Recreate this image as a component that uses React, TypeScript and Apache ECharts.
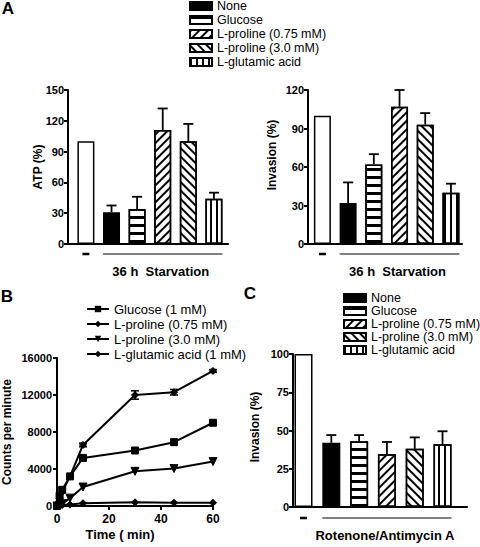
import React, { useEffect, useRef } from 'react';
import * as echarts from 'echarts';

// ---------- data ----------
const barNames = ['Control', 'None', 'Glucose', 'L-proline (0.75 mM)', 'L-proline (3.0 mM)', 'L-glutamic acid'];
const legendNames = barNames.slice(1);

const atpMean = [100, 31, 34, 111, 100, 44];
const atpErr = [0, 6.5, 12, 21, 17, 6];
const atpTicks = [0, 30, 60, 90, 120, 150];

const invAMean = [100, 32, 62, 107, 93, 40];
const invAErr = [0, 16, 8, 13, 9, 7];
const invATicks = [0, 30, 60, 90, 120];

const invCMean = [100, 42, 43, 34.5, 38, 41];
const invCErr = [0, 5, 4, 8, 7.5, 8.5];
const invCTicks = [0, 25, 50, 75, 100];

const timeMin = [0, 1, 2, 5, 10, 30, 45, 60];
const lineNames = ['Glucose (1 mM)', 'L-proline (0.75 mM)', 'L-proline (3.0 mM)', 'L-glutamic acid (1 mM)'];
const glucoseCpm = [0, 1100, 1750, 3200, 5200, 6000, 6900, 9000];
const proline075Cpm = [0, 800, 1500, 3200, 6600, 12000, 12300, 14600];
const proline075Err = [0, 0, 0, 150, 200, 450, 300, 150];
const proline30Cpm = [0, 100, 250, 850, 2050, 3750, 4050, 4800];
const glutamicCpm = [0, 50, 100, 150, 300, 400, 350, 350];
const timeTicks = [0, 20, 40, 60];
const cpmTicks = [0, 4000, 8000, 12000, 16000];

const FONT = '"Liberation Sans", Arial, Helvetica, sans-serif';
const B_PREFIX = 'B: ';

function decalFor(i: number): any {
  const base = { symbol: 'rect', symbolSize: 1, symbolKeepAspect: false, color: '#000' };
  if (i === 2) return { ...base, dashArrayX: [1, 0], dashArrayY: [3, 5], rotation: 0 };
  if (i === 3) return { ...base, dashArrayX: [1, 0], dashArrayY: [1.5, 3.5], rotation: -Math.PI / 4 };
  if (i === 4) return { ...base, dashArrayX: [1, 0], dashArrayY: [1.5, 3.2], rotation: Math.PI / 4 };
  if (i === 5) return { ...base, dashArrayX: [2, 3.5], dashArrayY: [1, 0], rotation: 0 };
  return undefined;
}

function barSeries(gridIdx: number, means: number[], errs: number[], barWidth: number) {
  const out: any[] = [];
  barNames.forEach((name, i) => {
    const decal = decalFor(i);
    out.push({
      type: 'bar',
      name,
      xAxisIndex: gridIdx,
      yAxisIndex: gridIdx,
      barWidth,
      barGap: '-100%',
      data: [[i, means[i]]],
      itemStyle: {
        color: i === 1 ? '#000' : '#fff',
        borderColor: '#000',
        borderWidth: 1.5,
        ...(decal ? { decal } : {}),
      },
      emphasis: { disabled: true },
      z: 2,
    });
  });
  const errData = means.map((m, i) => [i, m, errs[i]]).filter((d) => d[2] > 0);
  out.push({
    type: 'custom',
    name: 'err' + gridIdx,
    xAxisIndex: gridIdx,
    yAxisIndex: gridIdx,
    encode: { x: 0, y: 1 },
    data: errData,
    z: 5,
    renderItem: (params: any, api: any) => {
      const x = api.value(0), v = api.value(1), e = api.value(2);
      const p0 = api.coord([x, v]);
      const p1 = api.coord([x, v + e]);
      return {
        type: 'group',
        children: [
          { type: 'line', shape: { x1: p0[0], y1: p0[1], x2: p1[0], y2: p1[1] }, style: { stroke: '#000', lineWidth: 1.8 } },
          { type: 'line', shape: { x1: p1[0] - 5, y1: p1[1], x2: p1[0] + 5, y2: p1[1] }, style: { stroke: '#000', lineWidth: 1.8 } },
        ],
      };
    },
  });
  return out;
}

function yAxisFor(gridIdx: number, ticks: number[], margin = 5) {
  return {
    type: 'value',
    gridIndex: gridIdx,
    min: ticks[0],
    max: ticks[ticks.length - 1],
    interval: ticks[1] - ticks[0],
    axisLine: { show: true, onZero: false, lineStyle: { color: '#000', width: 2 } },
    axisTick: { show: true, length: 4, lineStyle: { color: '#000', width: 2 } },
    axisLabel: {
      show: true, color: '#000', fontWeight: 'bold', fontSize: 11, fontFamily: FONT, margin,
      formatter: (v: number) => String(v),
    },
    splitLine: { show: false },
  };
}

function barXAxis(gridIdx: number, min: number, max: number) {
  return {
    type: 'value',
    gridIndex: gridIdx,
    min,
    max,
    axisLine: { show: true, onZero: false, lineStyle: { color: '#000', width: 2 } },
    axisTick: { show: false },
    axisLabel: { show: false },
    splitLine: { show: false },
  };
}

function barLegend(left: number, top: number, lineHeight: number) {
  return {
    orient: 'vertical',
    left,
    top,
    padding: 0,
    itemGap: 0,
    itemWidth: 22,
    itemHeight: 8,
    icon: 'rect',
    selectedMode: false,
    data: legendNames,
    textStyle: { color: '#000', fontSize: 12.5, fontFamily: FONT, lineHeight },
  };
}

const lineSymbols = ['rect', 'diamond', 'triangle', 'diamond'];
const lineSizes = [7, 7, 8, 7];
const lineRot = [0, 0, 180, 0];
const lineData = [glucoseCpm, proline075Cpm, proline30Cpm, glutamicCpm];

export default function App() {
  const ref = useRef<HTMLDivElement>(null);
  useEffect(() => {
    if (!ref.current) return;
    const chart = echarts.init(ref.current, null, { renderer: 'svg' });
    const lineSeries = lineNames.map((n, k) => ({
      type: 'line',
      name: B_PREFIX + n,
      xAxisIndex: 2,
      yAxisIndex: 2,
      data: timeMin.map((t, i) => [t, lineData[k][i]]),
      symbol: lineSymbols[k],
      symbolSize: lineSizes[k],
      symbolRotate: lineRot[k],
      showSymbol: true,
      lineStyle: { color: '#000', width: 2 },
      itemStyle: { color: '#000', borderColor: '#000' },
      emphasis: { disabled: true },
      z: 3,
    }));
    const option: any = {
      animation: false,
      textStyle: { fontFamily: FONT },
      grid: [
        { left: 68, top: 90, width: 160, height: 154, outerBoundsMode: 'none' },
        { left: 308, top: 90, width: 154, height: 154, outerBoundsMode: 'none' },
        { left: 57, top: 358, width: 156, height: 148, outerBoundsMode: 'none' },
        { left: 293, top: 354, width: 174, height: 153, outerBoundsMode: 'none' },
      ],
      xAxis: [
        barXAxis(0, -0.7, 5.55),
        barXAxis(1, -0.56, 5.43),
        {
          type: 'value',
          gridIndex: 2,
          min: timeTicks[0],
          max: timeTicks[timeTicks.length - 1],
          interval: timeTicks[1] - timeTicks[0],
          axisLine: { show: true, onZero: false, lineStyle: { color: '#000', width: 2 } },
          axisTick: { show: true, length: 4, lineStyle: { color: '#000', width: 2 } },
          axisLabel: { show: true, color: '#000', fontWeight: 'bold', fontSize: 12, fontFamily: FONT, margin: 7 },
          splitLine: { show: false },
        },
        barXAxis(3, -0.378, 5.88),
      ],
      yAxis: [
        yAxisFor(0, atpTicks, 4),
        yAxisFor(1, invATicks, 4),
        yAxisFor(2, cpmTicks, 5),
        yAxisFor(3, invCTicks, 4),
      ],
      legend: [
        barLegend(189, -1, 14),
        barLegend(343, 291.5, 11.3),
        {
          orient: 'vertical',
          left: 86,
          top: 301.5,
          padding: 0,
          itemGap: 0,
          itemWidth: 22,
          itemHeight: 8,
          selectedMode: false,
          data: lineNames.map((n) => B_PREFIX + n),
          formatter: (name: string) => name.replace(B_PREFIX, ''),
          textStyle: { color: '#000', fontSize: 13, fontFamily: FONT, lineHeight: 15 },
        },
      ],
      series: [
        ...barSeries(0, atpMean, atpErr, 17),
        ...barSeries(1, invAMean, invAErr, 17),
        ...barSeries(3, invCMean, invCErr, 18),
        ...lineSeries,
        {
          type: 'custom',
          name: 'errB',
          xAxisIndex: 2,
          yAxisIndex: 2,
          encode: { x: 0, y: 1 },
          data: timeMin.map((t, i) => [t, proline075Cpm[i], proline075Err[i]]).filter((d) => d[2] > 0),
          z: 4,
          renderItem: (params: any, api: any) => {
            const x = api.value(0), v = api.value(1), e = api.value(2);
            const lo = api.coord([x, v - e]);
            const hi = api.coord([x, v + e]);
            const st = { stroke: '#000', lineWidth: 1.5 };
            return {
              type: 'group',
              children: [
                { type: 'line', shape: { x1: lo[0], y1: lo[1], x2: hi[0], y2: hi[1] }, style: st },
                { type: 'line', shape: { x1: hi[0] - 4, y1: hi[1], x2: hi[0] + 4, y2: hi[1] }, style: st },
                { type: 'line', shape: { x1: lo[0] - 4, y1: lo[1], x2: lo[0] + 4, y2: lo[1] }, style: st },
              ],
            };
          },
        },
      ],
    };
    chart.setOption(option);

    // annotations computed from the axes
    const g: any[] = [];
    const txt = (text: string, x: number, y: number, size: number, extra: any = {}) => ({
      type: 'text',
      x,
      y,
      ...extra,
      style: { text, fill: '#000', font: `bold ${size}px ${FONT}`, textAlign: 'center', textVerticalAlign: 'middle', ...(extra.style || {}) },
    });
    g.push(txt('A', 8, 8, 17));
    g.push(txt('B', 7, 296, 17));
    g.push(txt('C', 250, 293, 17));
    g.push(txt('ATP (%)', 38, 167, 12, { rotation: Math.PI / 2 }));
    g.push(txt('Invasion (%)', 272, 155, 12, { rotation: Math.PI / 2 }));
    g.push(txt('Invasion (%)', 255, 427, 12, { rotation: Math.PI / 2 }));
    g.push(txt('Counts per minute', 7, 432, 12, { rotation: Math.PI / 2 }));
    g.push(txt('Time ( min)', 120, 534, 13));

    const panels = [
      { grid: 0, bw: 17, label: '36 h  Starvation', dy: 10, ty: 27 },
      { grid: 1, bw: 17, label: '36 h  Starvation', dy: 10, ty: 27 },
      { grid: 3, bw: 18, label: 'Rotenone/Antimycin A', dy: 11, ty: 28 },
    ];
    panels.forEach((p) => {
      const c0 = chart.convertToPixel({ gridIndex: p.grid } as any, [0, 0]) as number[];
      const c1 = chart.convertToPixel({ gridIndex: p.grid } as any, [1, 0]) as number[];
      const c5 = chart.convertToPixel({ gridIndex: p.grid } as any, [5, 0]) as number[];
      const y = c0[1] + p.dy;
      g.push({ type: 'line', shape: { x1: c0[0] - 3.5, y1: y, x2: c0[0] + 3.5, y2: y }, style: { stroke: '#000', lineWidth: 2.5 } });
      const xl = c1[0] - p.bw / 2, xr = c5[0] + p.bw / 2;
      g.push({ type: 'line', shape: { x1: xl, y1: y, x2: xr, y2: y }, style: { stroke: '#000', lineWidth: 1 } });
      g.push(txt(p.label, (xl + xr) / 2 - 2, c0[1] + p.ty, 13));
    });
    chart.setOption({ graphic: g });
    return () => chart.dispose();
  }, []);
  return <div ref={ref} style={{ position: 'absolute', left: 0, top: 0, width: 480, height: 547, background: '#fff' }} />;
}
